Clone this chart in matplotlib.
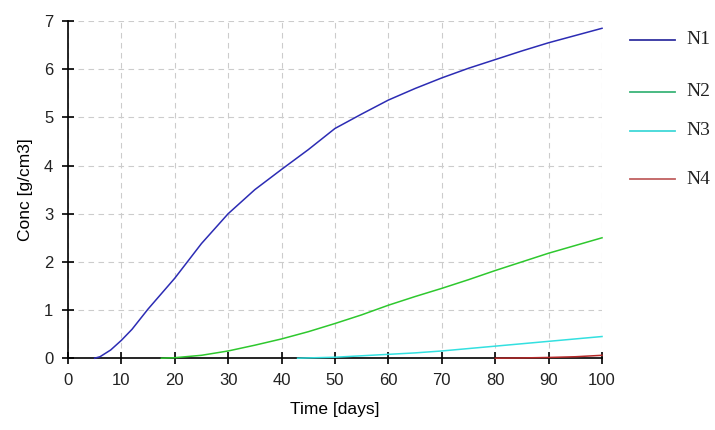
import matplotlib
matplotlib.use("Agg")
import matplotlib.pyplot as plt
from matplotlib.lines import Line2D

# values
t_n1 = [5, 6, 8, 10, 12, 15, 20, 25, 30, 35, 40, 45, 50, 55, 60, 65, 70, 75, 80, 85, 90, 95, 100]
c_n1 = [0.0, 0.03, 0.17, 0.37, 0.6, 1.02, 1.66, 2.38, 3.0, 3.5, 3.92, 4.33, 4.77, 5.07, 5.36, 5.6, 5.82, 6.02, 6.2, 6.38, 6.55, 6.7, 6.85]

t_n2 = [17.5, 20, 25, 30, 35, 40, 45, 50, 55, 60, 65, 70, 75, 80, 85, 90, 95, 100]
c_n2 = [0.0, 0.01, 0.06, 0.15, 0.27, 0.4, 0.55, 0.72, 0.9, 1.1, 1.28, 1.45, 1.63, 1.82, 2.0, 2.18, 2.34, 2.5]

t_n3 = [43, 50, 55, 60, 65, 70, 75, 80, 85, 90, 95, 100]
c_n3 = [0.0, 0.02, 0.05, 0.08, 0.11, 0.15, 0.2, 0.25, 0.3, 0.35, 0.4, 0.45]

t_n4 = [80, 85, 90, 95, 100]
c_n4 = [0.0, 0.005, 0.015, 0.03, 0.06]

series_names = ["N1", "N2", "N3", "N4"]
line_colors = ["#2c2cb4", "#2ec82e", "#33e0e0", "#b42828"]
legend_colors = ["#3232a0", "#3cb478", "#40d8d8", "#c06060"]

x_ticks = list(range(0, 101, 10))
y_ticks = list(range(0, 8))

fig = plt.figure(figsize=(7.15, 4.3), dpi=100)
ax = fig.add_axes([0.095, 0.167, 0.747, 0.784])

series = [(t_n1, c_n1), (t_n2, c_n2), (t_n3, c_n3), (t_n4, c_n4)]
for (t, c), col in zip(series, line_colors):
    ax.plot(t, c, color=col, linewidth=1.1, clip_on=False, zorder=3)

ax.set_xlim(0, 100)
ax.set_ylim(0, 7)
ax.set_xticks(x_ticks)
ax.set_yticks(y_ticks)
ax.grid(True, color="#cccccc", linestyle=(0, (5, 4)), linewidth=0.8)
for s in ["top", "right"]:
    ax.spines[s].set_visible(False)
for s in ["left", "bottom"]:
    ax.spines[s].set_linewidth(1.2)
ax.tick_params(direction="inout", length=9, width=1.2, labelsize=12, pad=6)
for lab in ax.get_xticklabels() + ax.get_yticklabels():
    lab.set_family("Liberation Sans")
    lab.set_color("#222222")

ax.set_xlabel("Time [days]", fontsize=12.5, family="Liberation Sans", labelpad=10)
ax.set_ylabel("Conc [g/cm3]", fontsize=12.5, family="Liberation Sans", labelpad=8)

# legend drawn at right, outside plot area
leg_y = [40, 92, 131, 179]
for name, col, yp in zip(series_names, legend_colors, leg_y):
    yf = 1 - yp / 430
    fig.add_artist(Line2D([630 / 715, 675 / 715], [yf, yf], color=col, linewidth=1.3))
    fig.text(686 / 715, yf, name, fontsize=14, family="Liberation Serif", va="center", ha="left", color="#222222")

plt.savefig("out.png", dpi=100)
